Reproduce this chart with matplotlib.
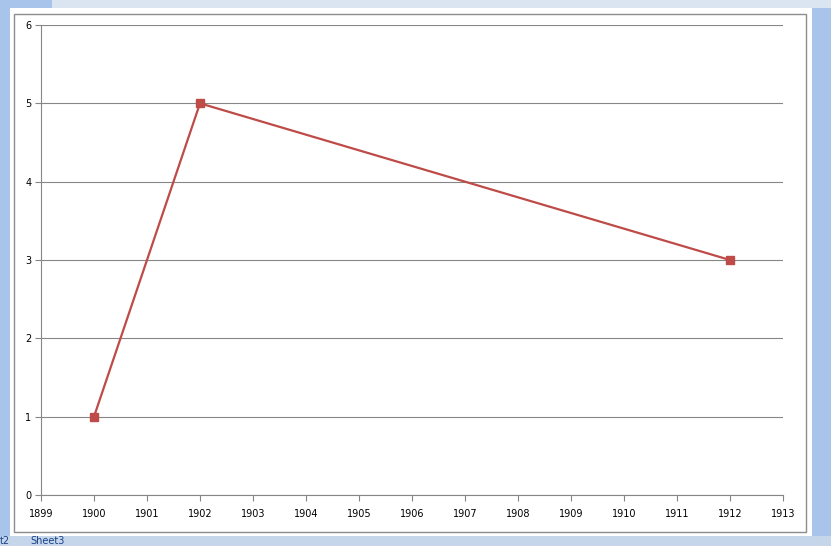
import matplotlib
matplotlib.use('Agg')
import matplotlib.pyplot as plt
from matplotlib.patches import Rectangle

# data
years = [1900, 1902, 1912]
values = [1, 5, 3]
x_ticks = list(range(1899, 1914))
y_ticks = [0, 1, 2, 3, 4, 5, 6]

W, H = 831, 546
fig = plt.figure(figsize=(W / 100, H / 100), dpi=100)
fig.patch.set_facecolor('white')

def px(x0, y0, x1, y1, **kw):
    # rectangle in pixel coords (y from top), kept behind the axes
    r = Rectangle((x0 / W, 1 - y1 / H), (x1 - x0) / W, (y1 - y0) / H,
                  transform=fig.transFigure, zorder=-10, **kw)
    fig.add_artist(r)

# excel window bits round the chart
px(0, 0, 10, 546, facecolor='#a9c4eb', edgecolor='none')
px(812, 0, 831, 546, facecolor='#a9c4eb', edgecolor='none')
px(0, 0, 831, 8, facecolor='#dbe5f1', edgecolor='none')
px(0, 0, 52, 8, facecolor='#a9c4eb', edgecolor='none')
px(0, 536, 831, 546, facecolor='#c5d5ea', edgecolor='none')
px(14, 14, 806, 532, facecolor='white', edgecolor='#8c8c8c', linewidth=1)

fig.text(0.0, 0.003, 't2', fontsize=7, color='#15428b')
fig.text(0.036, 0.003, 'Sheet3', fontsize=7, color='#15428b')

ax = fig.add_axes([41 / W, 1 - 495 / H, (783 - 41) / W, (495 - 25) / H])
ax.patch.set_alpha(0)

ax.plot(years, values, color='#be4b48', linewidth=1.6, marker='s',
        markersize=6, markerfacecolor='#be4b48', markeredgecolor='#be4b48',
        zorder=3)

ax.set_xlim(1899, 1913)
ax.set_ylim(0, 6)
ax.set_xticks(x_ticks)
ax.set_yticks(y_ticks)
ax.yaxis.grid(True, color='#868686', linewidth=0.8)
ax.set_axisbelow(True)

for s in ['top', 'right']:
    ax.spines[s].set_visible(False)
for s in ['left', 'bottom']:
    ax.spines[s].set_color('#868686')
    ax.spines[s].set_linewidth(0.8)

ax.tick_params(axis='both', direction='out', length=4, width=0.8,
               color='#868686', labelsize=7, labelcolor='black')
ax.tick_params(axis='x', pad=6)
ax.tick_params(axis='y', pad=3)

fig.savefig('out.png', dpi=100, facecolor=fig.get_facecolor())
